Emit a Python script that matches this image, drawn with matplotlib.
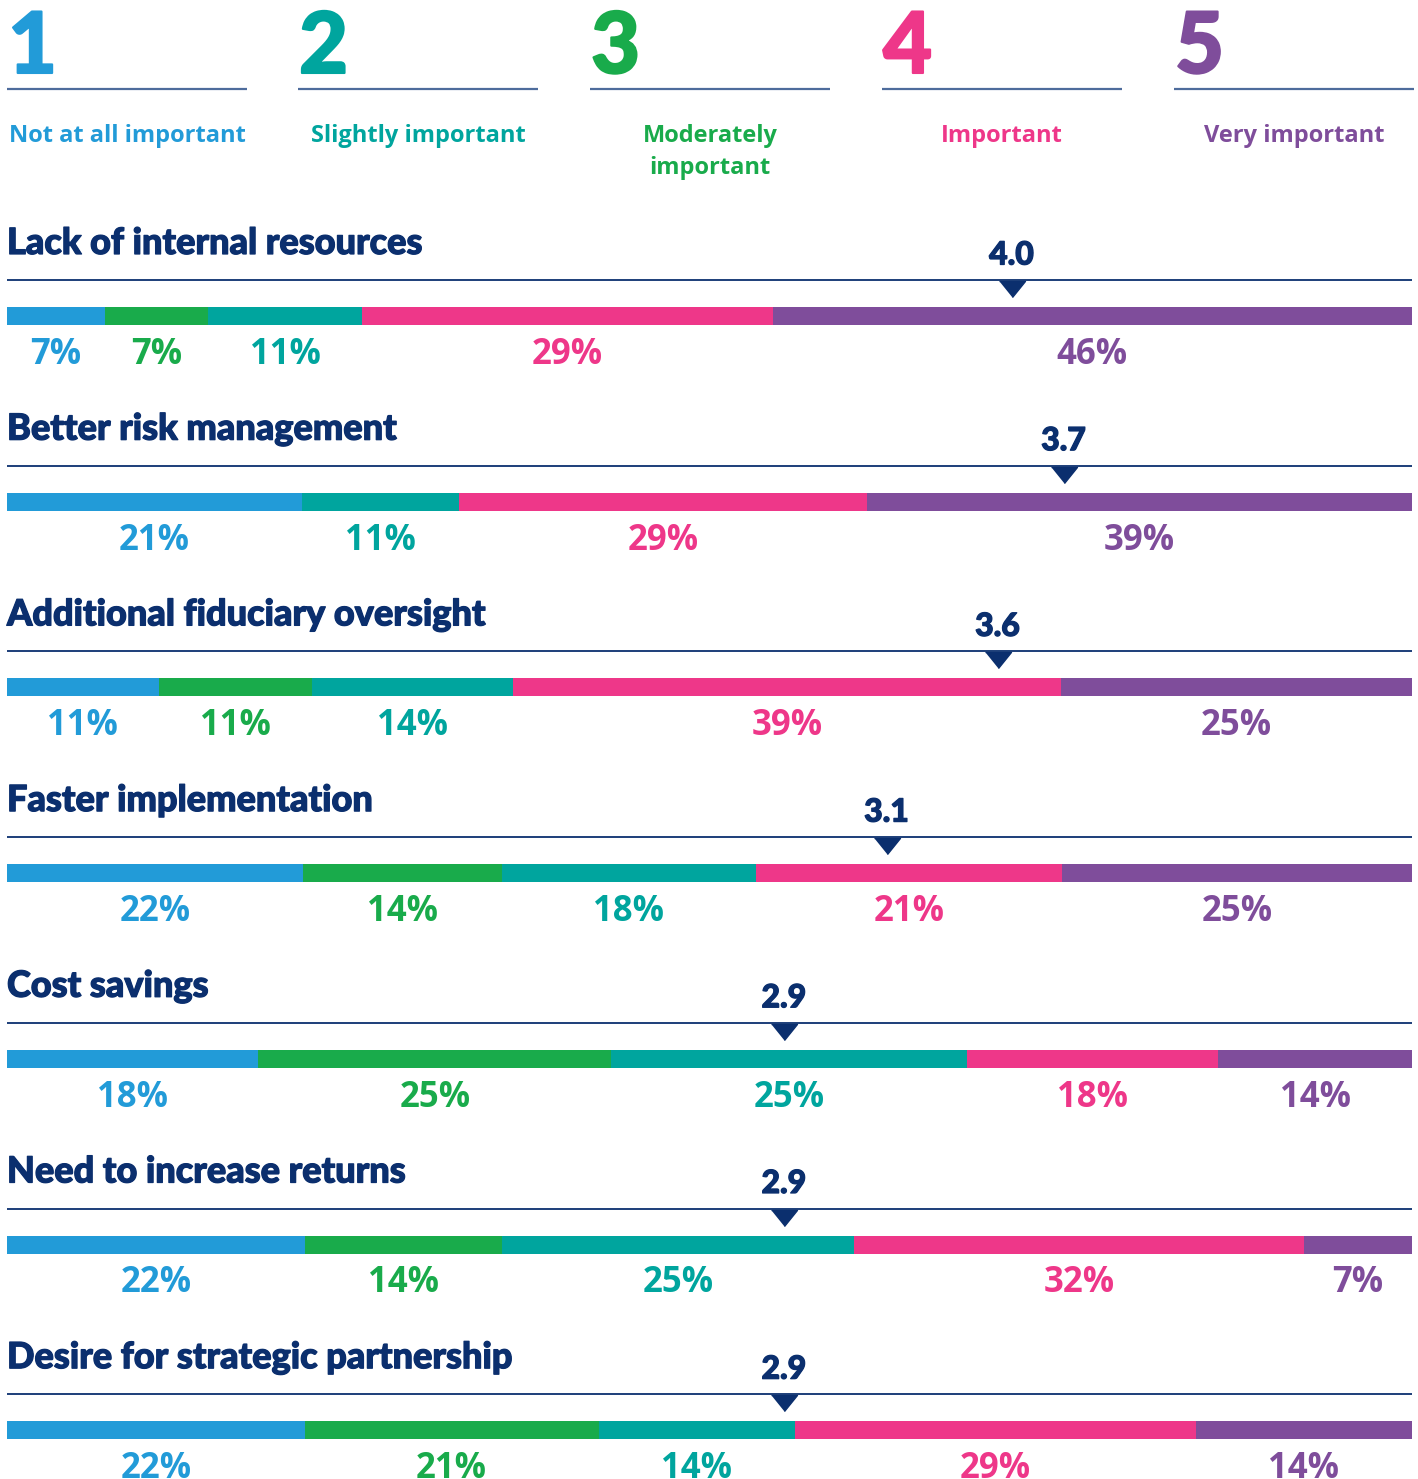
import matplotlib
matplotlib.use("Agg")
import matplotlib.pyplot as plt
import matplotlib.patheffects as pe

# ---------------- data ----------------
scale_numbers = ["1", "2", "3", "4", "5"]
scale_labels = ["Not at all important", "Slightly important", "Moderately\nimportant",
                "Important", "Very important"]
scale_colors = ["#229BD8", "#00A59E", "#19AB4B", "#EE3789", "#7F4D9B"]

categories = ["Lack of internal resources", "Better risk management",
              "Additional fiduciary oversight", "Faster implementation",
              "Cost savings", "Need to increase returns",
              "Desire for strategic partnership"]
mean_scores = [4.0, 3.7, 3.6, 3.1, 2.9, 2.9, 2.9]
# marker location along the bar (percent of bar length)
mean_marker_pct = [71.5, 75.2, 70.5, 62.6, 55.3, 55.3, 55.3]

# printed percentage labels, segments in drawing order (0 = segment absent)
pct_blue   = [7, 21, 11, 22, 18, 22, 22]
pct_green  = [7, 0, 11, 14, 25, 14, 21]
pct_teal   = [11, 11, 14, 18, 25, 25, 14]
pct_pink   = [29, 29, 39, 21, 18, 32, 29]
pct_purple = [46, 39, 25, 25, 14, 7, 14]

# drawn segment lengths (share of the bar, %)
share_blue   = [7.0, 21.0, 10.8, 21.1, 17.9, 21.2, 21.2]
share_green  = [7.3, 0.0, 10.9, 14.1, 25.1, 14.0, 20.9]
share_teal   = [11.0, 11.2, 14.3, 18.1, 25.3, 25.1, 14.0]
share_pink   = [29.2, 29.0, 39.0, 21.8, 17.9, 32.0, 28.5]
share_purple = [45.5, 38.8, 25.0, 24.9, 13.8, 7.7, 15.4]

BLUE, GREEN, TEAL, PINK, PURPLE = "#229BD8", "#19AB4B", "#00A59E", "#EE3789", "#7F4D9B"
seg_colors = [BLUE, GREEN, TEAL, PINK, PURPLE]
NAVY = "#0B2F6E"
HEADER_LINE = "#4E6C9C"

# ---------------- figure ----------------
W, H = 1418, 1479
fig = plt.figure(figsize=(W / 100, H / 100), dpi=100)

hdr = fig.add_axes([0, 0, 1, 1])
hdr.set_xlim(0, W)
hdr.set_ylim(H, 0)
hdr.axis("off")

col_left = [7, 298, 590, 882, 1174]
col_w = 240
for i in range(5):
    x0 = col_left[i]
    hdr.text(x0 + 1, 73, scale_numbers[i], color=scale_colors[i], fontsize=61,
             fontfamily="Lato", fontweight="black", ha="left", va="baseline",
             path_effects=[pe.withStroke(linewidth=1.5, foreground=scale_colors[i])])
    hdr.plot([x0, x0 + col_w], [89, 89], color=HEADER_LINE, lw=1.6,
             solid_capstyle="butt")
    for j, line in enumerate(scale_labels[i].split("\n")):
        hdr.text(x0 + col_w / 2, 142 + j * 32, line, color=scale_colors[i],
                 fontsize=17, fontfamily="Open Sans", fontweight="bold",
                 ha="center", va="baseline")

row_top0 = 215
row_step = 185.7
row_h = 185
bx0, bx1 = 7, 1412
pct_all = [pct_blue, pct_green, pct_teal, pct_pink, pct_purple]
share_all = [share_blue, share_green, share_teal, share_pink, share_purple]

tri = [(-1.0, 0.62), (1.0, 0.62), (0.0, -0.62)]
navy_fx = [pe.withStroke(linewidth=0.9, foreground=NAVY)]

for r, cat in enumerate(categories):
    top = row_top0 + r * row_step
    ax = fig.add_axes([bx0 / W, 1 - (top + row_h) / H, (bx1 - bx0) / W, row_h / H])
    ax.set_xlim(0, 100)
    ax.set_ylim(row_h, 0)
    ax.axis("off")

    ax.text(0, 39, cat, color=NAVY, fontsize=26, fontfamily="Lato",
            fontweight="black", ha="left", va="baseline", clip_on=False,
            path_effects=navy_fx)
    ax.axhline(65, color=NAVY, lw=1.3)
    m = mean_marker_pct[r]
    ax.plot([m], [74], marker=tri, markersize=18.7, color=NAVY, linestyle="none")
    ax.text(m, 49.5, f"{mean_scores[r]:.1f}", color=NAVY, fontsize=23,
            fontfamily="Lato", fontweight="black", ha="center", va="baseline",
            path_effects=navy_fx)

    left = 0.0
    for k in range(5):
        v = share_all[k][r]
        if v <= 0:
            continue
        ax.barh(101, v, left=left, height=18, color=seg_colors[k], linewidth=0)
        ax.text(left + v / 2, 149, f"{pct_all[k][r]}%", color=seg_colors[k],
                fontsize=25, fontfamily="Open Sans", fontweight="bold",
                ha="center", va="baseline", clip_on=False)
        left += v

fig.savefig("out.png", dpi=100)
